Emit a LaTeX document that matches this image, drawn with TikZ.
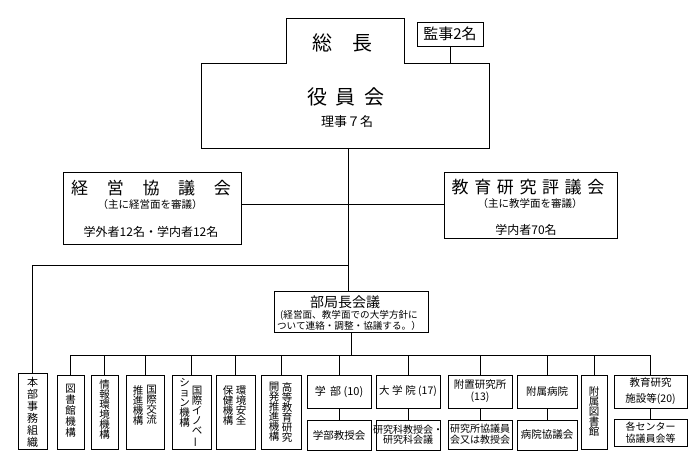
\documentclass[tikz,border=0pt]{standalone}
\usepackage{fontspec}
\setmainfont{Noto Sans CJK JP}
\newcommand\fz[2]{\fontsize{#1}{#2}\selectfont}
% rectangle node from corner coordinates: style, x1, y1, x2, y2, name
\newcommand\rb[6]{\node[#1,minimum width={(#4-#2)*1pt},minimum height={(#5-#3)*1pt}] (#6) at ({(#2+#4)/2},{(#3+#5)/2}) {};}
\newcommand\vbar{\rotatebox[origin=c]{90}{ー}}
\begin{document}
\begin{tikzpicture}[x=1pt,y=-1pt,
  line/.style={line width=0.9pt},
  box/.style={draw,line width=0.9pt,rectangle,inner sep=0pt,outer sep=0pt},
  area/.style={rectangle,inner sep=0pt,outer sep=0pt},
  txt/.style={inner sep=0pt,align=center},
  vtxt/.style={inner sep=0pt,align=center,anchor=north,font=\fz{10.5}{11}},
]
\useasboundingbox[fill=white] (0,0) rectangle (700,462);

% top: president + board outline
\rb{area}{201}{63}{489}{148}{yakuin}
\rb{area}{286}{18}{404}{63}{socho}
\draw[line] (yakuin.north west) -- (socho.south west) -- (socho.north west) -- (socho.north east)
  -- (socho.south east) -- (yakuin.north east) -- (yakuin.south east) -- (yakuin.south west) -- cycle;
\node[txt,font=\fz{20}{20}] (socholbl) at (342,43) {総\hspace{1em}長};
\node[txt,font=\fz{20}{20}] (yakuinlbl) at (346,97) {役\hspace{0.45em}員\hspace{0.45em}会};
\node[txt,font=\fz{13}{13}] (rijilbl) at (347,122) {理事７名};

\rb{box}{417}{22}{483}{46}{kanji}
\node[txt,font=\fz{15}{15}] (kanjilbl) at (kanji) {監事2名};
\draw[line] (kanji.south) -- (kanji.south |- yakuin.north);

% councils
\rb{box}{63}{172}{241}{244}{keiei}
\node[txt,font=\fz{17}{17}] (keieit) at (151,188) {経\hspace{1.1em}営\hspace{1.1em}協\hspace{1.1em}議\hspace{1.1em}会};
\node[txt,font=\fz{10.5}{10.5}] (keieis) at (150,205) {（主に経営面を審議）};
\node[txt,font=\fz{12}{12}] (keeien) at (151,232) {学外者12名・学内者12名};

\rb{box}{444}{172}{617}{238}{kyoiku}
\node[txt,font=\fz{17}{17}] (kyoikut) at (528,187) {教\hspace{0.33em}育\hspace{0.33em}研\hspace{0.33em}究\hspace{0.33em}評\hspace{0.33em}議\hspace{0.33em}会};
\node[txt,font=\fz{10.5}{10.5}] (kyoikus) at (530,204) {（主に教学面を審議）};
\node[txt,font=\fz{12}{12}] (kyoikun) at (526,230) {学内者70名};

% deans' council
\rb{box}{274}{291}{428}{332}{bukyoku}
\node[txt,font=\fz{14}{14}] (bukyokut) at (345,302) {部局長会議};
\node[txt,font=\fz{9.6}{9.6}] (bukyokus1) at (349,315) {(経営面、教学面での大学方針に};
\node[txt,font=\fz{9.6}{9.6}] (bukyokus2) at (349,325.5) {ついて連絡・調整・協議する。）};

% bottom row boxes
\rb{box}{18}{373}{47}{449}{honbu}
\rb{box}{57}{375}{84}{449}{tosho}
\rb{box}{91}{375}{118}{449}{joho}
\rb{box}{126}{375}{164}{449}{kokusai}
\rb{box}{172}{375}{211}{449}{inov}
\rb{box}{216}{375}{255}{449}{kankyo}
\rb{box}{261}{375}{301}{449}{koto}
\rb{box}{307}{375}{371}{408}{gakubu}
\rb{box}{376}{375}{440}{408}{daigakuin}
\rb{box}{448}{375}{512}{408}{fuchi}
\rb{box}{517}{375}{577}{408}{byoin}
\rb{box}{581}{375}{607}{449}{fuzoku}
\rb{box}{614}{375}{687}{408}{shisetsu}

\rb{box}{307}{420}{371}{450}{gakubuB}
\rb{box}{376}{420}{440}{450}{daigakuinB}
\rb{box}{448}{420}{512}{449}{fuchiB}
\rb{box}{517}{420}{577}{450}{byoinB}
\rb{box}{614}{419}{687}{446}{shisetsuB}

% connectors
\coordinate (h) at (0,204);
\coordinate (sp) at (348,0);
\coordinate (t) at (0,265);
\coordinate (bus) at (0,355);
\draw[line] (keiei.east |- h) -- (kyoiku.west |- h);
\draw[line] (sp |- yakuin.south) -- (sp |- bukyoku.north);
\draw[line] (honbu.north) |- (sp |- t);
\draw[line] (bukyoku.south) -- (bukyoku.south |- bus);
\draw[line] (tosho.north |- bus) -- (shisetsu.north |- bus);
\foreach \n in {tosho,joho,kokusai,inov,kankyo,koto,gakubu,daigakuin,fuchi,byoin,fuzoku,shisetsu}
  \draw[line] (\n.north) -- (\n.north |- bus);
\foreach \n in {gakubu,daigakuin,fuchi,byoin,shisetsu}
  \draw[line] (\n.south) -- (\n B.north);

% vertical labels
\node[vtxt,font=\fz{11}{12}] (honbut) at (32.5,377) {本\\部\\事\\務\\組\\織};
\node[vtxt] (tosht) at (70.5,384) {図\\書\\館\\機\\構};
\node[vtxt,font=\fz{10.5}{10}] (joht) at (104.5,379) {情\\報\\環\\境\\機\\構};
\node[vtxt,font=\fz{10.5}{10}] (kokt1) at (151.5,385) {国\\際\\交\\流};
\node[vtxt,font=\fz{10.5}{10}] (kokt2) at (138,385) {推\\進\\機\\構};
\node[vtxt,font=\fz{10.5}{10}] (inot1) at (197,386) {国\\際\\イ\\ノ\\ベ\\\vbar};
\node[vtxt,font=\fz{10.5}{10}] (inot2) at (184.5,378) {シ\\ョ\\ン\\機\\構};
\node[vtxt,font=\fz{10.5}{10}] (kant1) at (241,386) {環\\境\\安\\全};
\node[vtxt,font=\fz{10.5}{10}] (kant2) at (228,386) {保\\健\\機\\構};
\node[vtxt,font=\fz{10.5}{10}] (kott1) at (287,382) {高\\等\\教\\育\\研\\究};
\node[vtxt,font=\fz{10.5}{10}] (kott2) at (274,382) {開\\発\\推\\進\\機\\構};
\node[vtxt,font=\fz{10.5}{10}] (fuzt) at (594,386) {附\\属\\図\\書\\館};

% horizontal labels in bottom boxes
\node[txt,font=\fz{11}{11}] (gakubut) at (gakubu) {学\hspace{0.4em}部 (10)};
\node[txt,font=\fz{10.5}{10.5}] (daigakuint) at (daigakuin) {大\hspace{0.25em}学\hspace{0.25em}院 (17)};
\node[txt,font=\fz{10.5}{12}] (fuchit) at (fuchi) {附置研究所\\(13)};
\node[txt,font=\fz{10.5}{10.5}] (byoint) at (byoin) {附属病院};
\node[txt,font=\fz{10.5}{16}] (shisetsut) at (shisetsu) {教育研究\\施設等(20)};

\node[txt,font=\fz{10.5}{10.5}] (gakubuBt) at (gakubuB) {学部教授会};
\node[txt,font=\fz{10}{10}] (daigakuinBt) at (daigakuinB) {研究科教授会・\\研究科会議};
\node[txt,font=\fz{10}{11}] (fuchiBt) at (fuchiB) {研究所協議員\\会又は教授会};
\node[txt,font=\fz{10.5}{10.5}] (byoinBt) at (byoinB) {病院協議会};
\node[txt,font=\fz{10}{12}] (shisetsuBt) at (shisetsuB) {各センター\\協議員会等};
\end{tikzpicture}
\end{document}
